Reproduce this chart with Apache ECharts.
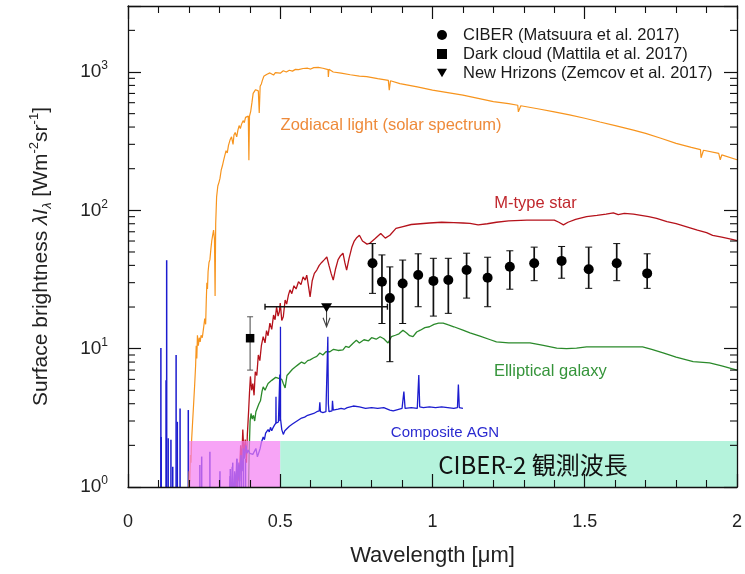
<!DOCTYPE html>
<html><head><meta charset="utf-8">
<script src="https://cdn.jsdelivr.net/npm/echarts@6/dist/echarts.min.js"></script>
<style>html,body{margin:0;padding:0;background:#fff}#c{width:745px;height:574px}</style>
</head><body><div id="c"></div>
<script>
// ---------------- DATA ----------------
const zodiX = [0.199,0.201,0.203,0.205,0.207,0.209,0.212,0.215,0.219,0.222,0.224,0.226,0.228,0.231,0.234,0.237,0.24,0.244,0.248,0.252,0.255,0.257,0.259,0.261,0.263,0.266,0.269,0.272,0.275,0.278,0.281,0.284,0.286,0.288,0.291,0.295,0.299,0.302,0.306,0.31,0.314,0.318,0.322,0.326,0.33,0.335,0.34,0.345,0.348,0.352,0.357,0.361,0.365,0.369,0.373,0.378,0.382,0.386,0.39,0.395,0.397,0.399,0.403,0.407,0.411,0.415,0.419,0.424,0.428,0.431,0.434,0.438,0.442,0.446,0.45,0.455,0.46,0.466,0.472,0.478,0.484,0.49,0.5,0.51,0.52,0.53,0.54,0.55,0.56,0.575,0.59,0.6,0.61,0.625,0.64,0.657,0.658,0.66,0.674,0.7,0.73,0.76,0.784,0.82,0.855,0.858,0.862,0.893,0.95,1.0,1.05,1.1,1.15,1.2,1.25,1.28,1.282,1.29,1.35,1.4,1.45,1.5,1.55,1.6,1.66,1.7,1.75,1.8,1.85,1.88,1.882,1.89,1.94,1.945,1.95,2.0];
const zodiY = [0.7,1.3,1.1,1.7,1.5,2.2,2.9,3.8,5.5,7.5,10.5,8.5,12.5,10.5,12.0,11.2,12.5,12.0,14.0,16.5,15.0,22,30,27,36,42,44,52,60,66,72,62,24,80,125,150,160,170,195,210,230,250,270,260,295,322,340,300,350,365,340,380,410,390,420,445,430,470,455,480,230,480,520,600,700,720,745,760,730,505,790,820,880,930,900,960,940,985,970,950,990,1000,980,1020,1000,1030,1015,1045,1040,1060,1065,1050,1075,1080,1065,1040,920,1045,1000,980,955,935,927,895,870,740,865,825,780,740,710,680,645,611,590,575,515,570,540,515,490,463,435,410,380,360,332,305,285,275,240,272,258,232,252,232];

const mStarX = [0.355,0.36,0.365,0.37,0.373,0.377,0.381,0.385,0.389,0.392,0.396,0.399,0.402,0.406,0.41,0.414,0.418,0.423,0.428,0.433,0.438,0.444,0.45,0.455,0.46,0.466,0.472,0.478,0.483,0.488,0.493,0.497,0.5,0.505,0.51,0.516,0.521,0.527,0.532,0.538,0.545,0.552,0.56,0.568,0.575,0.582,0.587,0.592,0.598,0.605,0.612,0.62,0.628,0.636,0.645,0.653,0.66,0.667,0.674,0.682,0.69,0.698,0.706,0.712,0.718,0.726,0.735,0.743,0.75,0.76,0.77,0.785,0.795,0.81,0.83,0.845,0.86,0.88,0.9,0.93,0.96,0.99,1.03,1.07,1.1,1.123,1.15,1.18,1.21,1.25,1.31,1.36,1.4,1.415,1.43,1.445,1.47,1.506,1.54,1.57,1.594,1.61,1.63,1.66,1.68,1.71,1.736,1.77,1.8,1.835,1.87,1.9,1.92,1.95,1.98,2.0];
const mStarY = [0.8,1.3,1.1,2.0,1.4,2.6,1.7,2.2,1.5,2.4,3.5,4.8,6.3,5.0,5.6,4.6,6.8,6.4,9.0,8.2,10.5,12.2,11.0,13.5,12.4,15.3,13.8,17.5,16.2,20,17.2,18.5,21.4,16.0,17,22.5,21,24.5,26.6,25,28.5,27,30.5,29,33,31.3,34,29,23.7,31,35,37,40,42,44,46,40,35,31.3,38,44,47,49,42,37,45,54,60,63,66,60,57,58,62,68,63,66,74,76,79,80,81,82,81.5,81,80.5,78.5,80,82,84,85,85,85,82,78.5,82,86,90,92,94,96,93,95,94,92.5,90,87.5,83,80,76,72,69,66,64,62,60.5];

const ellX = [0.395,0.398,0.401,0.404,0.408,0.412,0.416,0.42,0.425,0.43,0.435,0.44,0.444,0.45,0.455,0.46,0.466,0.472,0.478,0.485,0.49,0.495,0.5,0.505,0.51,0.516,0.522,0.53,0.54,0.55,0.56,0.57,0.58,0.59,0.598,0.61,0.62,0.63,0.64,0.65,0.663,0.675,0.69,0.706,0.715,0.725,0.74,0.75,0.76,0.775,0.79,0.8,0.815,0.828,0.84,0.854,0.865,0.878,0.89,0.903,0.915,0.925,0.936,0.948,0.96,0.975,0.99,1.005,1.02,1.035,1.05,1.07,1.1,1.123,1.156,1.19,1.21,1.25,1.32,1.36,1.408,1.44,1.473,1.506,1.6,1.69,1.72,1.76,1.8,1.856,1.91,1.95,2.0];
const ellY = [0.8,1.8,3.0,3.4,3.1,3.3,3.0,3.5,3.6,4.0,4.2,4.9,5.3,5.0,5.3,5.6,5.5,5.9,6.0,6.2,6.4,6.1,6.3,6.0,5.6,5.2,6.4,6.7,7.1,7.4,7.7,8.0,7.8,8.2,8.3,8.6,8.8,9.3,9.0,9.5,9.5,9.9,9.7,9.8,10.4,10.2,11.0,11.5,11.0,11.6,11.4,12.0,11.7,12.2,11.8,11.0,12.2,12.5,12.8,13.6,13.0,12.4,12.2,13.2,13.6,14.2,14.4,15.0,15.3,15.3,14.9,14.4,13.6,13.0,12.3,11.6,11.2,11.0,11.0,10.6,10.1,10.0,10.1,10.3,10.3,10.3,9.9,9.3,8.7,8.05,7.9,7.5,7.0];

const agnX = [0.33,0.335,0.338,0.342,0.346,0.35,0.353,0.357,0.36,0.364,0.367,0.371,0.375,0.379,0.383,0.387,0.391,0.395,0.4,0.405,0.41,0.416,0.42,0.425,0.43,0.434,0.438,0.444,0.448,0.452,0.456,0.46,0.464,0.468,0.472,0.477,0.481,0.4855,0.486,0.4865,0.49,0.494,0.4975,0.4985,0.499,0.5005,0.5007,0.501,0.505,0.51,0.515,0.52,0.53,0.54,0.55,0.56,0.57,0.58,0.59,0.6,0.61,0.62,0.628,0.63,0.632,0.64,0.65,0.655,0.6563,0.658,0.66,0.67,0.6716,0.674,0.68,0.69,0.7,0.71,0.72,0.73,0.74,0.76,0.78,0.8,0.82,0.84,0.86,0.871,0.88,0.9,0.906,0.91,0.93,0.95,0.955,0.958,0.97,0.99,1.01,1.03,1.05,1.07,1.082,1.085,1.088,1.1];
const agnY = [0.6,1.2,0.7,1.4,0.8,1.3,0.9,1.6,1.0,1.5,1.1,1.7,1.3,1.9,1.6,2.0,1.75,1.85,1.75,1.8,1.72,1.7,1.9,1.65,1.7,1.9,2.1,2.3,2.2,2.45,2.4,2.6,2.5,2.7,2.55,2.7,2.8,2.9,4.5,2.9,2.85,2.95,3.0,6.5,3.0,3.2,14.4,3.1,2.6,2.4,2.55,2.6,2.75,2.85,2.95,3.05,3.15,3.2,3.3,3.35,3.4,3.5,3.55,4.1,3.5,3.45,3.5,3.6,12.2,4.0,3.5,3.55,4.2,3.6,3.6,3.65,3.7,3.65,3.75,3.8,3.85,3.8,3.7,3.75,3.7,3.75,3.6,3.55,3.6,3.7,4.9,3.7,3.75,3.7,6.45,3.8,3.75,3.8,3.75,3.8,3.75,3.7,3.75,5.5,3.75,3.7];

// AGN far-UV emission spikes (rising from the bottom of the plot)
const agnSpikeX = [0.108,0.109,0.125,0.127,0.132,0.141,0.147,0.158,0.162,0.171,0.198,0.236,0.242,0.269,0.302,0.336,0.344,0.351,0.358,0.366,0.372,0.379,0.386];
const agnSpikeTop = [10.1,2.3,5.9,43.6,2.25,2.2,1.4,9.0,2.96,3.7,3.6,1.44,1.66,1.8,1.3,1.35,1.5,1.25,1.6,1.45,1.75,2.0,1.6];

const ciberName = 'CIBER (Matsuura et al. 2017)';
const ciberX = [0.803,0.834,0.860,0.902,0.953,1.003,1.052,1.112,1.181,1.254,1.334,1.424,1.513,1.605,1.705];
const ciberY = [41.5,30.5,23.2,29.6,34.1,30.9,31.4,37.0,32.6,39.1,41.5,43.1,37.5,41.5,35.0];
const ciberHi = [57.5,47.6,39,43.7,48.5,45,45,49,45.8,51,54.2,54.8,54.2,57.5,48.5];
const ciberLo = [25.1,15.2,8.05,15.2,20.1,17.2,18.0,23.2,20.1,26.9,31.0,32.3,27.3,31.0,27.3];

const darkName = 'Dark cloud (Mattila et al. 2017)';
const darkX = [0.401];
const darkY = [11.9];
const darkHi = [17.0];
const darkLo = [7.0];

const nhName = 'New Hrizons (Zemcov et al. 2017)';
const nhX = [0.652];
const nhY = [20.1];
const nhXLo = [0.45];
const nhXHi = [0.852];
const nhArrowTo = [14.4];

const bandEdges = [0.2, 0.5, 2.0];
const bandTop = 2.15;

const curveLabelText = ['Zodiacal light (solar spectrum)','M-type star','Elliptical galaxy','Composite AGN','CIBER-2 観測波長'];
const curveLabelX = [0.864,1.338,1.387,1.041,1.33];
const curveLabelY = [408,113,6.9,2.46,1.45];

const yMinorTicks = [2,3,4,5,6,7,8,9,20,30,40,50,60,70,80,90,200,300,400,500,600,700,800,900,2000];

// ---------------- CHART ----------------
const FONT = '"Liberation Sans", Arial, sans-serif';
const zip = (xs, ys) => xs.map((x, i) => [x, ys[i]]);
const C_ZODI = '#f7941d', C_MSTAR = '#b5121b', C_ELL = '#2b8a2b', C_AGN = '#1c1ccf';
const labelColors = ['#ee8a3a', '#c0272d', '#35943a', '#2b2bd0', '#111'];
const labelSizes = [16.5, 16.5, 16.5, 15, 24];
const labelFonts = [FONT, FONT, FONT, FONT, '"Noto Sans CJK JP", sans-serif'];

function axisX(pos, labels) {
  return {
    type: 'value', position: pos, min: 0, max: 2, interval: 0.5, z: 10,
    axisLine: {show: true, onZero: false, lineStyle: {color: '#111', width: 1.3}},
    axisTick: {show: true, inside: true, length: 13, lineStyle: {color: '#111', width: 1.2}},
    minorTick: {show: true, splitNumber: 5, length: 7, lineStyle: {color: '#111', width: 1.1}},
    splitLine: {show: false}, minorSplitLine: {show: false},
    axisLabel: {show: labels, margin: 26, fontSize: 18, color: '#222', fontFamily: FONT,
      formatter: v => String(v)},
    name: labels ? 'Wavelength [\u03bcm]' : '', nameLocation: 'middle', nameGap: 58,
    nameTextStyle: {fontSize: 22, color: '#222', fontFamily: FONT}
  };
}
function fmtPow(v) {
  const e = Math.round(Math.log10(v));
  if (Math.abs(v - Math.pow(10, e)) > 1e-6 * v) return '';
  return '{b|10}{s|' + e + '}';
}
function axisY(pos, labels) {
  return {
    type: 'log', logBase: 10, position: pos, min: 1, max: 3000, z: 10,
    axisLine: {show: true, onZero: false, lineStyle: {color: '#111', width: 1.3}},
    axisTick: {show: true, inside: true, length: 13, lineStyle: {color: '#111', width: 1.2}},
    splitLine: {show: false},
    axisLabel: {show: labels, margin: 20, formatter: fmtPow,
      rich: {b: {fontSize: 19, fontFamily: FONT, color: '#222', lineHeight: 24},
             s: {fontSize: 12, fontFamily: FONT, color: '#222', verticalAlign: 'top', lineHeight: 12}}},
    name: labels ? '{a|Surface brightness }{i|\u03bbI}{sub|\u03bb}{a| [Wm}{sup|-2}{a|sr}{sup|-1}{a|]}' : '',
    nameLocation: 'middle', nameGap: 74, nameRotate: 90,
    nameTextStyle: {fontFamily: FONT, color: '#222', padding: [0, 20, 0, 0],
      rich: {a: {fontSize: 21, fontFamily: FONT, color: '#222', lineHeight: 26},
             i: {fontSize: 21, fontFamily: FONT, fontStyle: 'italic', color: '#222', lineHeight: 26},
             sub: {fontSize: 13, fontFamily: FONT, fontStyle: 'italic', color: '#222', verticalAlign: 'bottom', lineHeight: 14},
             sup: {fontSize: 13, fontFamily: FONT, color: '#222', verticalAlign: 'top', lineHeight: 14}}}
  };
}
function lineSeries(name, data, color, width) {
  return {type: 'line', name: name, data: data, showSymbol: false, symbol: 'none', z: 2,
    lineStyle: {color: color, width: width}, itemStyle: {color: color}, clip: true, silent: true};
}
const blk = '#111';
function vErrRender(color, lw, cap) {
  return function (params, api) {
    const x = api.value(0);
    const p1 = api.coord([x, api.value(2)]), p2 = api.coord([x, api.value(1)]);
    const st = {stroke: color, lineWidth: lw};
    return {type: 'group', children: [
      {type: 'line', shape: {x1: p1[0], y1: p1[1], x2: p2[0], y2: p2[1]}, style: st},
      {type: 'line', shape: {x1: p1[0] - cap, y1: p1[1], x2: p1[0] + cap, y2: p1[1]}, style: {stroke: color, lineWidth: 1}},
      {type: 'line', shape: {x1: p2[0] - cap, y1: p2[1], x2: p2[0] + cap, y2: p2[1]}, style: {stroke: color, lineWidth: 1}}
    ]};
  };
}

const option = {
  animation: false,
  backgroundColor: '#fff',
  textStyle: {fontFamily: FONT},
  grid: {left: 128, right: 8, top: 6, bottom: 87},
  legend: {
    orient: 'vertical', left: 432, top: 21, itemWidth: 10, itemHeight: 10, itemGap: 1,
    selectedMode: false, data: [ciberName, darkName, nhName],
    textStyle: {fontSize: 16.5, color: '#1a1a1a', fontFamily: FONT, lineHeight: 18, padding: [0, 0, 0, 11]}
  },
  xAxis: [axisX('bottom', true), axisX('top', false)],
  yAxis: [axisY('left', true), axisY('right', false)],
  series: [
    lineSeries('Zodiacal light', zip(zodiX, zodiY), C_ZODI, 1.2),
    lineSeries('M-type star', zip(mStarX, mStarY), C_MSTAR, 1.3),
    lineSeries('Elliptical galaxy', zip(ellX, ellY), C_ELL, 1.3),
    lineSeries('Composite AGN', zip(agnX, agnY), C_AGN, 1.3),
    {type: 'custom', name: 'AGN spikes', silent: true, z: 2, clip: true,
     data: zip(agnSpikeX, agnSpikeTop),
     renderItem: (params, api) => {
       const p1 = api.coord([api.value(0), 1]), p2 = api.coord([api.value(0), api.value(1)]);
       return {type: 'line', shape: {x1: p1[0], y1: p1[1], x2: p2[0], y2: p2[1]},
               style: {stroke: C_AGN, lineWidth: 1.5}};
     }},
    // bands
    {type: 'custom', name: 'bands', silent: true, z: 3,
     data: [[bandEdges[0], bandEdges[1], bandTop, 0], [bandEdges[1], bandEdges[2], bandTop, 1]],
     renderItem: (params, api) => {
       const a = api.coord([api.value(0), bandTop]), b = api.coord([api.value(1), 1]);
       const fill = api.value(3) === 0 ? 'rgba(244,126,242,0.7)' : 'rgba(150,238,205,0.7)';
       return {type: 'rect', shape: {x: a[0], y: a[1], width: b[0] - a[0], height: b[1] - a[1]},
               style: {fill: fill}};
     }},
    // CIBER
    {type: 'custom', name: 'ciberErr', silent: true, z: 5,
     data: ciberX.map((x, i) => [x, ciberLo[i], ciberHi[i]]),
     renderItem: vErrRender(blk, 1.7, 3.5)},
    {type: 'scatter', name: ciberName, data: zip(ciberX, ciberY), symbol: 'circle', symbolSize: 10, z: 6,
     itemStyle: {color: '#000', opacity: 1}},
    // Dark cloud
    {type: 'custom', name: 'darkErr', silent: true, z: 5,
     data: darkX.map((x, i) => [x, darkLo[i], darkHi[i]]),
     renderItem: vErrRender('#555', 1.1, 3)},
    {type: 'scatter', name: darkName, data: zip(darkX, darkY), symbol: 'rect', symbolSize: 8.5, z: 6,
     itemStyle: {color: '#000', opacity: 1}},
    // New Horizons
    {type: 'custom', name: 'nhBar', silent: true, z: 5,
     data: nhX.map((x, i) => [x, nhY[i], nhXLo[i], nhXHi[i], nhArrowTo[i]]),
     renderItem: (params, api) => {
       const y = api.value(1);
       const l = api.coord([api.value(2), y]), r = api.coord([api.value(3), y]);
       const c = api.coord([api.value(0), y]), d = api.coord([api.value(0), api.value(4)]);
       const st = {stroke: blk, lineWidth: 1.4};
       const st2 = {stroke: '#444', lineWidth: 1.1};
       return {type: 'group', children: [
         {type: 'line', shape: {x1: l[0], y1: l[1], x2: r[0], y2: r[1]}, style: st},
         {type: 'line', shape: {x1: l[0], y1: l[1] - 3, x2: l[0], y2: l[1] + 3}, style: st},
         {type: 'line', shape: {x1: r[0], y1: r[1] - 3, x2: r[0], y2: r[1] + 3}, style: st},
         {type: 'line', shape: {x1: c[0], y1: c[1], x2: d[0], y2: d[1]}, style: st2},
         {type: 'polyline', shape: {points: [[d[0] - 3.5, d[1] - 9], [d[0], d[1]], [d[0] + 3.5, d[1] - 9]]}, style: {stroke: '#444', lineWidth: 1.1, fill: null}}
       ]};
     }},
    {type: 'scatter', name: nhName, data: zip(nhX, nhY), symbol: 'path://M0,0 L10,0 L5,8.5 Z',
     symbolSize: [11, 9], symbolOffset: [0, 1], z: 6, itemStyle: {color: '#000', opacity: 1}},
    // curve labels
    {type: 'custom', name: 'labels', silent: true, z: 7,
     data: curveLabelX.map((x, i) => [x, curveLabelY[i], i]),
     renderItem: (params, api) => {
       const i = api.value(2);
       const p = api.coord([api.value(0), api.value(1)]);
       return {type: 'text', x: p[0], y: p[1],
               style: {text: curveLabelText[i], fill: labelColors[i], fontSize: labelSizes[i],
                       fontFamily: labelFonts[i], align: 'center', verticalAlign: 'middle'}};
     }},
    // minor log ticks on left and right
    {type: 'custom', name: 'yMinor', silent: true, z: 10,
     data: yMinorTicks.map(v => [0, v]),
     renderItem: (params, api) => {
       const cs = params.coordSys;
       const y = api.coord([0, api.value(1)])[1];
       const st = {stroke: '#111', lineWidth: 1.1};
       return {type: 'group', children: [
         {type: 'line', shape: {x1: cs.x, y1: y, x2: cs.x + 7, y2: y}, style: st},
         {type: 'line', shape: {x1: cs.x + cs.width - 7, y1: y, x2: cs.x + cs.width, y2: y}, style: st}
       ]};
     }}
  ]
};
const chart = echarts.init(document.getElementById('c'), null, {renderer: 'canvas'});
chart.setOption(option);
</script></body></html>
